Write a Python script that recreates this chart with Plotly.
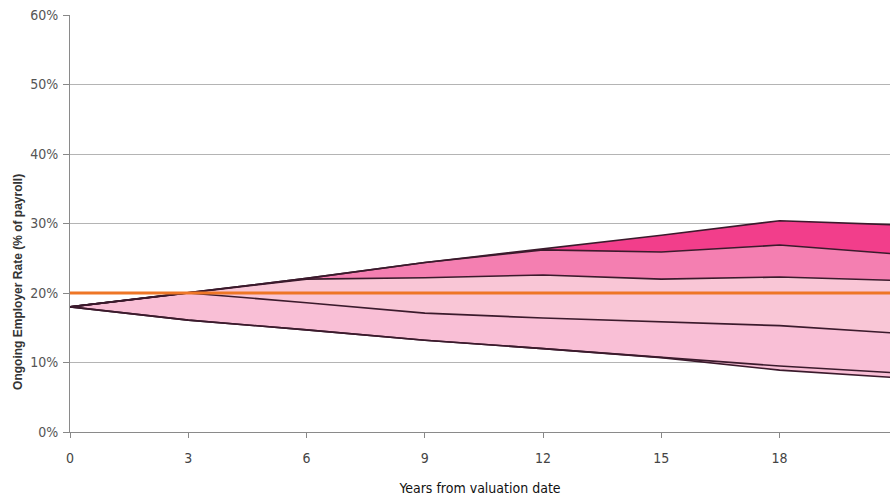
import plotly.graph_objects as go

years = [0, 3, 6, 9, 12, 15, 18, 21]
p_top = [18, 20, 22.1, 24.4, 26.3, 28.3, 30.4, 29.8]
p_upper = [18, 20, 22.1, 24.4, 26.2, 25.9, 26.9, 25.6]
p_mid = [18, 20, 22.0, 22.2, 22.6, 22.0, 22.3, 21.8]
p_lower = [18, 20, 18.6, 17.1, 16.4, 15.8, 15.3, 14.2]
p_bot = [18, 16.1, 14.7, 13.2, 12.0, 10.8, 9.5, 8.5]
p_min = [18, 16.1, 14.7, 13.2, 12.0, 10.7, 8.9, 7.8]
target_years = [0, 21]
target_rate = [20, 20]

y_ticks = [0, 10, 20, 30, 40, 50, 60]
y_tick_labels = ["0%", "10%", "20%", "30%", "40%", "50%", "60%"]
x_ticks = [0, 3, 6, 9, 12, 15, 18]

band_colors = ["#f9bfd6", "#f9bfd6", "#f9c6d6", "#f47fb1", "#f23e8b"]
bands = [p_bot, p_lower, p_mid, p_upper, p_top]

fig = go.Figure()
fig.add_trace(go.Scatter(x=years, y=[v / 100 for v in p_min], mode="lines",
                         line=dict(width=0), showlegend=False, hoverinfo="skip"))
for vals, col in zip(bands, band_colors):
    fig.add_trace(go.Scatter(x=years, y=[v / 100 for v in vals], mode="lines",
                             line=dict(width=0), fill="tonexty", fillcolor=col,
                             showlegend=False, hoverinfo="skip"))
for vals in [p_min, p_bot, p_lower, p_mid, p_upper, p_top]:
    fig.add_trace(go.Scatter(x=years, y=[v / 100 for v in vals], mode="lines",
                             line=dict(color="#3b1a2c", width=1.6),
                             showlegend=False))
fig.add_trace(go.Scatter(x=target_years, y=[v / 100 for v in target_rate], mode="lines",
                         line=dict(color="#ee7626", width=3.2), showlegend=False))

narrow = "Liberation Sans Narrow, Arial Narrow, DejaVu Sans Condensed, sans-serif"
fig.update_layout(
    width=890, height=499,
    margin=dict(l=70, r=0, t=15, b=67),
    paper_bgcolor="white", plot_bgcolor="white",
    xaxis=dict(range=[0, 20.8], tickvals=x_ticks, ticks="outside", ticklen=5,
               tickcolor="#888", showgrid=False, zeroline=False,
               showline=True, linecolor="#8a8a8a", linewidth=1,
               tickfont=dict(family=narrow, size=14, color="#444"),
               ticklabelstandoff=8,
               title=dict(text="Years from valuation date",
                          font=dict(family=narrow, size=14, color="#111"),
                          standoff=18)),
    yaxis=dict(range=[0, 0.6], tickvals=[v / 100 for v in y_ticks],
               ticktext=y_tick_labels, ticks="outside", ticklen=6,
               tickcolor="#888", showgrid=True, gridcolor="#b4b4b4", gridwidth=1,
               zeroline=False, showline=True, linecolor="#8a8a8a", linewidth=1,
               tickfont=dict(family=narrow, size=14, color="#555"),
               ticklabelstandoff=2),
    annotations=[dict(text="<b>Ongoing Employer Rate (% of payroll)</b>",
                      xref="paper", yref="paper", x=-52 / 820, y=0.36,
                      xanchor="center", yanchor="middle", textangle=-90,
                      showarrow=False,
                      font=dict(family="Liberation Sans, Arial, sans-serif",
                                size=12, color="#333"))],
)
fig.write_html("out.html")
